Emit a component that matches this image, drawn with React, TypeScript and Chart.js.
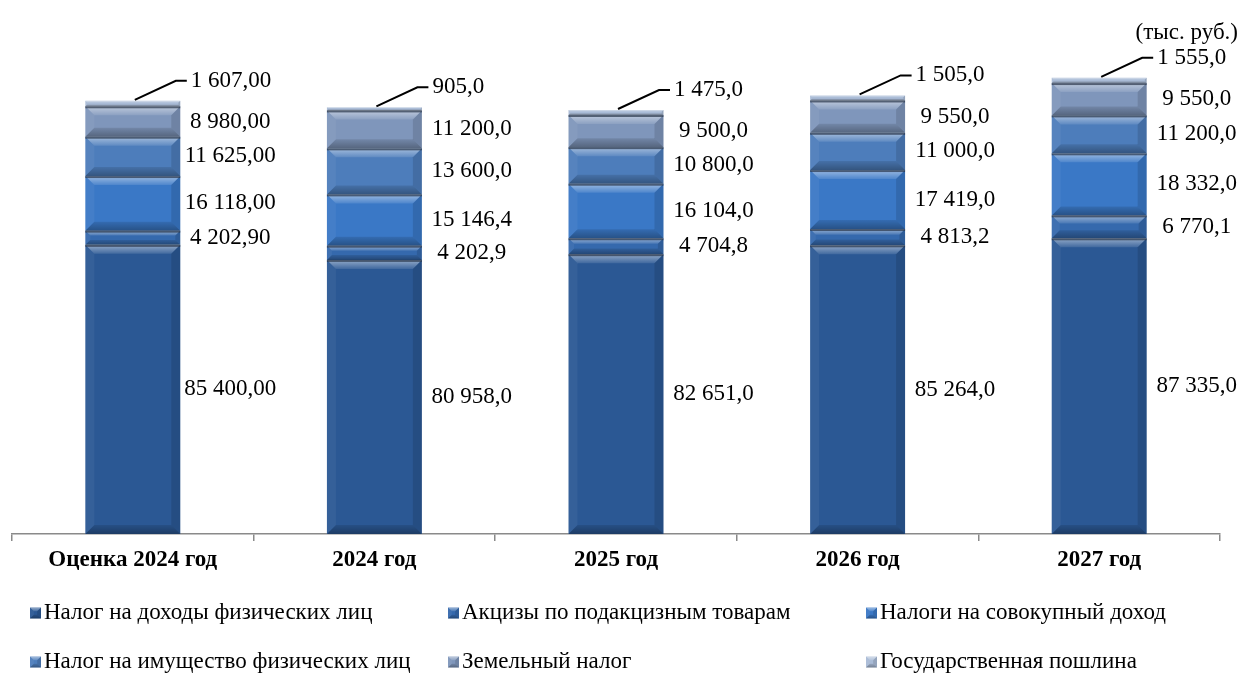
import React, { useEffect, useRef } from "react";
import { Chart, registerables } from "chart.js";

Chart.register(...registerables);

const categories = ["Оценка 2024 год", "2024 год", "2025 год", "2026 год", "2027 год"];
const seriesNames = [
  "Налог на доходы физических лиц",
  "Акцизы по подакцизным товарам",
  "Налоги на совокупный доход",
  "Налог на имущество физических лиц",
  "Земельный налог",
  "Государственная пошлина",
];
const ndfl = [85400, 80958, 82651, 85264, 87335];
const akcizy = [4202.9, 4202.9, 4704.8, 4813.2, 6770.1];
const sovokup = [16118, 15146.4, 16104, 17419, 18332];
const imushestvo = [11625, 13600, 10800, 11000, 11200];
const zemelny = [8980, 11200, 9500, 9550, 9550];
const poshlina = [1607, 905, 1475, 1505, 1555];
const labelDecimals = [2, 1, 1, 1, 1];
const seriesColors = ["#2b5894", "#3569ad", "#3a78c6", "#4d7dbb", "#7f96bb", "#a9bbd6"];
const yMax = 140000;
const unitLabel = "(тыс. руб.)";

const FONT = "'Liberation Serif', 'Times New Roman', serif";

function fmt(v: number, d: number): string {
  const s = v.toFixed(d);
  const [i, f] = s.split(".");
  const ii = i.replace(/\B(?=(\d{3})+(?!\d))/g, " ");
  return f ? ii + "," + f : ii;
}

function poly(ctx: CanvasRenderingContext2D, pts: number[][], fill: string | CanvasGradient) {
  ctx.beginPath();
  ctx.moveTo(pts[0][0], pts[0][1]);
  for (let k = 1; k < pts.length; k++) ctx.lineTo(pts[k][0], pts[k][1]);
  ctx.closePath();
  ctx.fillStyle = fill;
  ctx.fill();
}

function bevel(ctx: CanvasRenderingContext2D, l: number, t: number, r: number, b: number, sep = true) {
  const h = b - t;
  const bv = Math.min(9, h * 0.35);
  const gt = ctx.createLinearGradient(0, t, 0, t + bv);
  gt.addColorStop(0, "rgba(255,255,255,0.5)");
  gt.addColorStop(1, "rgba(255,255,255,0.1)");
  poly(ctx, [[l, t], [r, t], [r - bv, t + bv], [l + bv, t + bv]], gt);
  const gb = ctx.createLinearGradient(0, b - bv, 0, b);
  gb.addColorStop(0, "rgba(0,0,0,0.1)");
  gb.addColorStop(1, "rgba(0,0,0,0.32)");
  poly(ctx, [[l, b], [r, b], [r - bv, b - bv], [l + bv, b - bv]], gb);
  poly(ctx, [[l, t], [l + bv, t + bv], [l + bv, b - bv], [l, b]], "rgba(255,255,255,0.05)");
  poly(ctx, [[r, t], [r - bv, t + bv], [r - bv, b - bv], [r, b]], "rgba(0,0,0,0.12)");
  if (sep) {
    ctx.fillStyle = "rgba(40,52,72,0.7)";
    ctx.fillRect(l, t, r - l, Math.min(2, h));
  }
}

const overlayPlugin = {
  id: "overlay",
  afterDatasetsDraw(chart: any) {
    const ctx: CanvasRenderingContext2D = chart.ctx;
    const n = chart.data.datasets.length;
    ctx.save();
    for (let di = 0; di < n; di++) {
      const meta = chart.getDatasetMeta(di);
      meta.data.forEach((el: any) => {
        const { x, y, base, width } = el.getProps(["x", "y", "base", "width"], true);
        const l = x - width / 2;
        const r = x + width / 2;
        const t = Math.min(y, base);
        const b = Math.max(y, base);
        bevel(ctx, l, t, r, b, di !== n - 1);
      });
    }
    ctx.font = `23px ${FONT}`;
    ctx.fillStyle = "#000";
    ctx.textBaseline = "middle";
    for (let di = 0; di < n; di++) {
      const meta = chart.getDatasetMeta(di);
      const data = chart.data.datasets[di].data as number[];
      meta.data.forEach((el: any, j: number) => {
        const { x, y, base, width } = el.getProps(["x", "y", "base", "width"], true);
        const txt = fmt(data[j], labelDecimals[j]);
        if (di === n - 1) {
          const t = Math.min(y, base);
          const ly = t - 20;
          const tx = x + 58;
          ctx.strokeStyle = "#000";
          ctx.lineWidth = 2;
          ctx.beginPath();
          ctx.moveTo(x + 2, t - 1);
          ctx.lineTo(tx - 15, ly);
          ctx.lineTo(tx - 4, ly);
          ctx.stroke();
          ctx.textAlign = "left";
          ctx.fillText(txt, tx, ly);
        } else {
          ctx.textAlign = "center";
          ctx.fillText(txt, x + width / 2 + 50, (y + base) / 2);
        }
      });
    }
    ctx.restore();
  },
  afterDraw(chart: any) {
    const ctx: CanvasRenderingContext2D = chart.ctx;
    ctx.save();
    ctx.font = `23px ${FONT}`;
    ctx.fillStyle = "#000";
    ctx.textBaseline = "middle";
    ctx.textAlign = "right";
    ctx.fillText(unitLabel, 1238, 33);
    const cols = [30, 448, 866];
    const rows = [613, 662];
    ctx.textAlign = "left";
    seriesNames.forEach((name, i) => {
      const cx = cols[i % 3];
      const cy = rows[Math.floor(i / 3)];
      const s = 11;
      ctx.fillStyle = seriesColors[i];
      ctx.fillRect(cx, cy - s / 2, s, s);
      bevel(ctx, cx, cy - s / 2, cx + s, cy + s / 2, false);
      ctx.fillStyle = "#000";
      ctx.fillText(name, cx + 14, cy);
    });
    ctx.restore();
  },
};

export default function App() {
  const ref = useRef<HTMLCanvasElement>(null);
  useEffect(() => {
    if (!ref.current) return;
    const series = [ndfl, akcizy, sovokup, imushestvo, zemelny, poshlina];
    const chart = new Chart(ref.current, {
      type: "bar",
      data: {
        labels: categories,
        datasets: series.map((d, i) => ({
          label: seriesNames[i],
          data: d,
          backgroundColor: seriesColors[i],
          borderWidth: 0,
          barPercentage: 0.393,
          categoryPercentage: 1,
        })),
      },
      options: {
        responsive: false,
        animation: false,
        layout: { padding: { left: 12, right: 28, top: 60, bottom: 101 } },
        plugins: { legend: { display: false }, tooltip: { enabled: false } },
        scales: {
          x: {
            stacked: true,
            afterFit: (s: any) => {
              s.height = 40;
            },
            grid: {
              display: true,
              offset: true,
              drawOnChartArea: false,
              drawTicks: true,
              tickLength: 7,
              color: "#8a8a8a",
              lineWidth: 1.5,
            },
            border: { display: true, color: "#8a8a8a", width: 1.5 },
            ticks: {
              color: "#000",
              padding: 5,
              font: { family: FONT, size: 23, weight: "bold" },
            },
          },
          y: {
            stacked: true,
            display: false,
            min: 0,
            max: yMax,
          },
        },
      },
      plugins: [overlayPlugin],
    });
    return () => chart.destroy();
  }, []);
  return (
    <div style={{ position: "fixed", left: 0, top: 0, width: 1248, height: 675, background: "#fff" }}>
      <canvas ref={ref} width={1248} height={675} style={{ width: 1248, height: 675 }} />
    </div>
  );
}
